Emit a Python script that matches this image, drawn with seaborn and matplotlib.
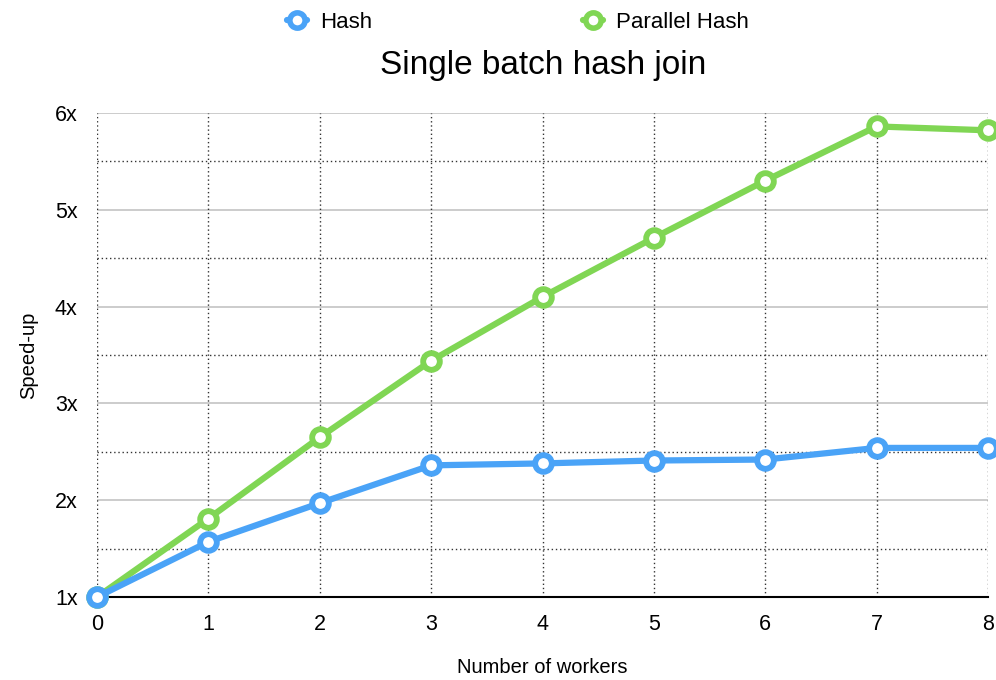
import matplotlib

matplotlib.use("Agg")
import matplotlib.pyplot as plt
import pandas as pd
import seaborn as sns
from matplotlib.lines import Line2D
from matplotlib.ticker import FixedLocator, FuncFormatter

workers = [0, 1, 2, 3, 4, 5, 6, 7, 8]
hash_speedup = [1.0, 1.57, 1.97, 2.36, 2.38, 2.41, 2.42, 2.54, 2.54]
parallel_speedup = [1.0, 1.81, 2.65, 3.44, 4.10, 4.71, 5.30, 5.86, 5.82]
series_names = ["Hash", "Parallel Hash"]
colors = {"Hash": "#4aa3f7", "Parallel Hash": "#80d654"}

df = pd.concat(
    [
        pd.DataFrame({"workers": workers, "speedup": hash_speedup, "series": "Hash"}),
        pd.DataFrame({"workers": workers, "speedup": parallel_speedup, "series": "Parallel Hash"}),
    ]
)

sns.set_theme(style="white")
plt.rcParams["font.family"] = ["Liberation Sans", "DejaVu Sans"]
plt.rcParams["text.color"] = "black"
plt.rcParams["axes.labelcolor"] = "black"
plt.rcParams["xtick.color"] = "black"
plt.rcParams["ytick.color"] = "black"

fig = plt.figure(figsize=(9.96, 6.8), dpi=100)
ax = fig.add_axes([0.0974, 0.122, 0.8946, 0.712])

# grid: solid gray at whole numbers, dotted at halves, dotted verticals
for y in [2, 3, 4, 5, 6]:
    ax.axhline(y, color="#c4c4c4", lw=1.2, zorder=0)
for y in [1.5, 2.5, 3.5, 4.5, 5.5]:
    ax.axhline(y, color="#333333", lw=1.0, ls=(0, (1, 2)), zorder=0)
for x in workers:
    ax.axvline(x, color="#333333", lw=1.0, ls=(0, (1, 2)), zorder=0)

for name in ["Parallel Hash", "Hash"]:
    sub = df[df["series"] == name]
    sns.lineplot(
        data=sub, x="workers", y="speedup", ax=ax, color=colors[name],
        lw=4.5, marker="o", markersize=12, markeredgewidth=4.2,
        markerfacecolor="white", markeredgecolor=colors[name],
        clip_on=False, zorder=3, legend=False,
    )

ax.set_xlim(0, 8)
ax.set_ylim(1, 6)
ax.xaxis.set_major_locator(FixedLocator(workers))
ax.yaxis.set_major_locator(FixedLocator([1, 2, 3, 4, 5, 6]))
ax.yaxis.set_major_formatter(FuncFormatter(lambda v, p: f"{int(v)}x"))
ax.tick_params(axis="x", labelsize=15.5, length=0, pad=12)
ax.tick_params(axis="y", labelsize=15.5, length=0, pad=14)

for s in ["top", "right", "left"]:
    ax.spines[s].set_visible(False)
ax.spines["bottom"].set_color("black")
ax.spines["bottom"].set_linewidth(1.5)
ax.spines["bottom"].set_zorder(2)

ax.set_xlabel("Number of workers", fontsize=14.5, labelpad=17)
ax.set_ylabel("Speed-up", fontsize=14.5, labelpad=12)

fig.text(0.545, 0.903, "Single batch hash join", fontsize=24, ha="center", va="center")

handles = [
    Line2D([0], [0], color=colors[n], lw=4.5, marker="o", markersize=11,
           markeredgewidth=4, markerfacecolor="white", markeredgecolor=colors[n])
    for n in series_names
]
fig.legend(handles, series_names, loc="center", bbox_to_anchor=(0.52, 0.967),
           ncol=2, frameon=False, fontsize=16, handlelength=0.9,
           handletextpad=0.6, columnspacing=9.5)

fig.savefig("out.png", dpi=100)
